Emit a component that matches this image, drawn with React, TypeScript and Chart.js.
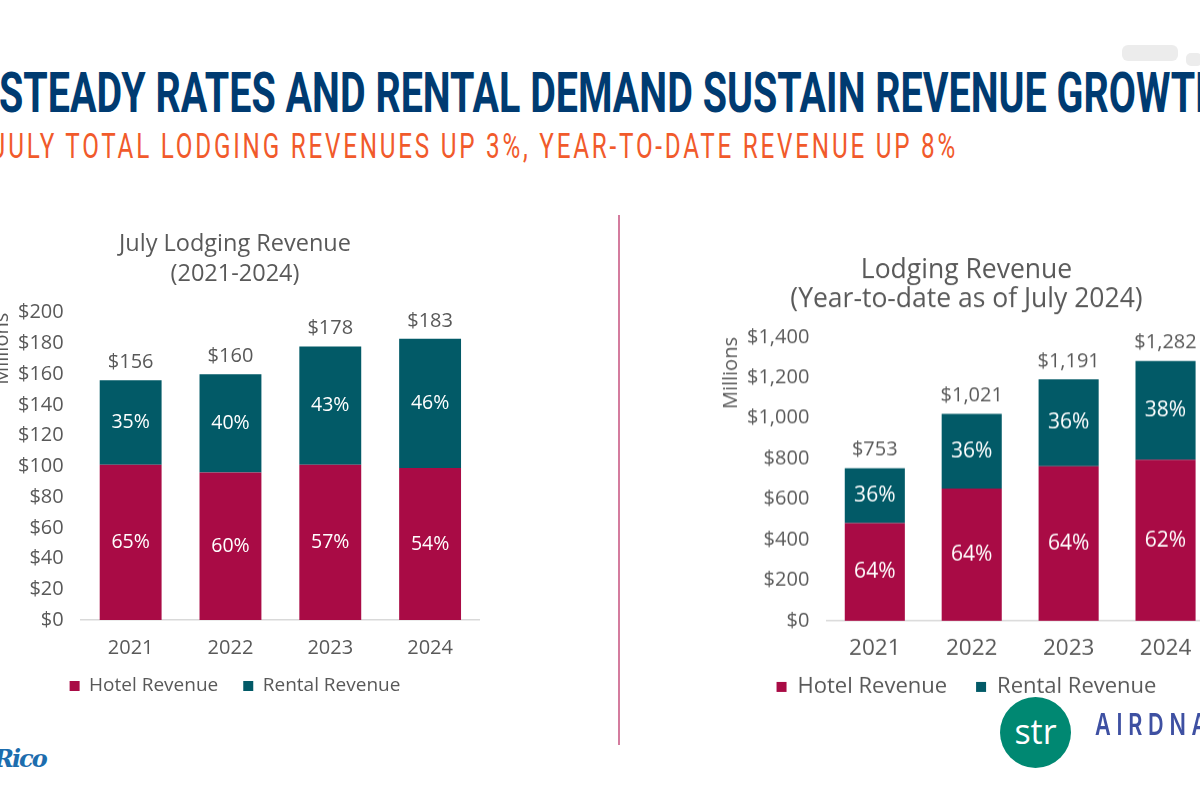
import React, { useEffect, useRef } from "react";
import { Chart, registerables } from "chart.js";

Chart.register(...registerables);

// ---------- data ----------
const years = ["2021", "2022", "2023", "2024"];

const julyTitle = ["July Lodging Revenue", "(2021-2024)"];
const julyHotel = [101, 96, 101, 99];
const julyRental = [55, 64, 77, 84];
const julyTotals = [156, 160, 178, 183];
const julyHotelPct = ["65%", "60%", "57%", "54%"];
const julyRentalPct = ["35%", "40%", "43%", "46%"];
const julyMax = 200;
const julyStep = 20;

const ytdTitle = ["Lodging Revenue", "(Year-to-date as of July 2024)"];
const ytdHotel = [482, 653, 762, 795];
const ytdRental = [271, 368, 429, 487];
const ytdTotals = [753, 1021, 1191, 1282];
const ytdHotelPct = ["64%", "64%", "64%", "62%"];
const ytdRentalPct = ["36%", "36%", "36%", "38%"];
const ytdMax = 1400;
const ytdStep = 200;

const seriesNames = ["Hotel Revenue", "Rental Revenue"];

// ---------- style ----------
const HOTEL = "#A90B45";
const RENTAL = "#025A67";
const GRAY = "#595959";
const FONT = '"Open Sans", "DejaVu Sans", sans-serif';
const Y_PAD = 17;

const money = (v: number) => "$" + Number(v).toLocaleString("en-US");

const barLabelPlugin = {
  id: "barLabels",
  afterLayout(chart: any, _args: any, opts: any) {
    const lg = chart.legend;
    if (lg && opts.legendShift) {
      lg.top -= opts.legendShift;
      lg.bottom -= opts.legendShift;
    }
  },
  afterDatasetsDraw(chart: any, _args: any, opts: any) {
    const ctx = chart.ctx;
    ctx.save();
    ctx.textAlign = "center";
    ctx.textBaseline = "middle";
    chart.data.datasets.forEach((_ds: any, di: number) => {
      const meta = chart.getDatasetMeta(di);
      meta.data.forEach((bar: any, i: number) => {
        const { x, y, base } = bar.getProps(["x", "y", "base"], true);
        ctx.font = `400 ${opts.pctSize}px ${FONT}`;
        ctx.fillStyle = "#ffffff";
        ctx.fillText(opts.pct[di][i], x, (y + base) / 2);
      });
    });
    const last = chart.getDatasetMeta(chart.data.datasets.length - 1);
    last.data.forEach((bar: any, i: number) => {
      const { x, y } = bar.getProps(["x", "y"], true);
      ctx.font = `400 ${opts.totalSize}px ${FONT}`;
      ctx.fillStyle = GRAY;
      ctx.fillText(money(opts.totals[i]), x, y - 18);
    });
    ctx.restore();
  },
};

type Look = {
  titleSize: number;
  titleLH: number;
  titlePadBottom: number;
  xSize: number;
  xPad: number;
  legendSize: number;
  legendPad: number;
  legendShift: number;
  pctSize: number;
  totalSize: number;
};

function makeConfig(
  title: string[],
  hotel: number[],
  rental: number[],
  totals: number[],
  hotelPct: string[],
  rentalPct: string[],
  max: number,
  step: number,
  look: Look
): any {
  return {
    type: "bar",
    data: {
      labels: years,
      datasets: [
        {
          label: seriesNames[0],
          data: hotel,
          backgroundColor: HOTEL,
          borderWidth: 0,
          barPercentage: 0.62,
          categoryPercentage: 1,
        },
        {
          label: seriesNames[1],
          data: rental,
          backgroundColor: RENTAL,
          borderWidth: 0,
          barPercentage: 0.62,
          categoryPercentage: 1,
        },
      ],
    },
    plugins: [barLabelPlugin],
    options: {
      responsive: true,
      maintainAspectRatio: false,
      animation: false,
      layout: { padding: 0 },
      plugins: {
        tooltip: { enabled: false },
        title: {
          display: true,
          text: title,
          color: GRAY,
          font: { family: FONT, size: look.titleSize, weight: "400", lineHeight: look.titleLH },
          padding: { top: 8, bottom: look.titlePadBottom },
        },
        legend: {
          display: true,
          position: "bottom",
          labels: {
            color: GRAY,
            boxWidth: 10,
            boxHeight: 10,
            padding: look.legendPad,
            font: { family: FONT, size: look.legendSize },
          },
        },
        barLabels: {
          pctSize: look.pctSize,
          totalSize: look.totalSize,
          legendShift: look.legendShift,
          pct: [hotelPct, rentalPct],
          totals,
        },
      },
      scales: {
        x: {
          stacked: true,
          grid: { display: false, drawTicks: false },
          border: { display: true, color: "#d9d9d9", width: 1.5 },
          ticks: {
            color: GRAY,
            padding: look.xPad,
            font: { family: FONT, size: look.xSize },
          },
          afterFit: (scale: any) => {
            scale.height -= look.xPad;
          },
        },
        y: {
          stacked: true,
          min: 0,
          max,
          grid: { display: false, drawTicks: false },
          border: { display: false },
          ticks: {
            stepSize: step,
            color: GRAY,
            padding: Y_PAD,
            font: { family: FONT, size: 20 },
            callback: (v: any) => money(v),
          },
          title: {
            display: true,
            text: "Millions",
            align: "end",
            color: GRAY,
            font: { family: FONT, size: 20 },
            padding: { top: 0, bottom: 4 },
          },
          afterFit: (scale: any) => {
            scale.width -= Y_PAD;
          },
        },
      },
    },
  };
}

function ChartBox(props: { config: any; left: number; top: number; width: number; height: number }) {
  const ref = useRef<HTMLCanvasElement | null>(null);
  useEffect(() => {
    if (!ref.current) return;
    const chart = new Chart(ref.current, props.config);
    return () => chart.destroy();
  }, []);
  return (
    <div
      style={{
        position: "absolute",
        left: props.left,
        top: props.top,
        width: props.width,
        height: props.height,
      }}
    >
      <canvas ref={ref} />
    </div>
  );
}

const julyLook: Look = {
  titleSize: 23.5,
  titleLH: 1.25,
  titlePadBottom: 24,
  xSize: 20,
  xPad: 16,
  legendSize: 19,
  legendPad: 25,
  legendShift: 8.5,
  pctSize: 19.5,
  totalSize: 20,
};

const ytdLook: Look = {
  titleSize: 26.5,
  titleLH: 1.1,
  titlePadBottom: 22.5,
  xSize: 22.5,
  xPad: 14.5,
  legendSize: 22,
  legendPad: 29,
  legendShift: 15.5,
  pctSize: 21,
  totalSize: 20,
};

export default function App() {
  const julyConfig = makeConfig(julyTitle, julyHotel, julyRental, julyTotals, julyHotelPct, julyRentalPct, julyMax, julyStep, julyLook);
  const ytdConfig = makeConfig(ytdTitle, ytdHotel, ytdRental, ytdTotals, ytdHotelPct, ytdRentalPct, ytdMax, ytdStep, ytdLook);
  return (
    <div
      style={{
        position: "fixed",
        left: 0,
        top: 0,
        width: 1200,
        height: 800,
        overflow: "hidden",
        background: "#ffffff",
      }}
    >
      <div
        style={{
          position: "absolute",
          left: 1122,
          top: 45,
          width: 56,
          height: 16,
          borderRadius: 6,
          background: "#ececec",
        }}
      />
      <div
        style={{
          position: "absolute",
          left: 1186,
          top: 53,
          width: 16,
          height: 13,
          borderRadius: 5,
          background: "#ececec",
        }}
      />
      <svg
        width={1200}
        height={180}
        style={{ position: "absolute", left: 0, top: 0 }}
      >
        <text
          x={-1}
          y={112}
          textLength={1224}
          lengthAdjust="spacingAndGlyphs"
          fill="#003B71"
          style={{ fontFamily: "Roboto, 'Liberation Sans', sans-serif", fontWeight: 700, fontSize: 56 }}
        >
          STEADY RATES AND RENTAL DEMAND SUSTAIN REVENUE GROWTH
        </text>
        <text
          x={-8}
          y={158}
          textLength={966}
          lengthAdjust="spacingAndGlyphs"
          fill="#F15A2B"
          style={{ fontFamily: "Roboto, 'Liberation Sans', sans-serif", fontWeight: 400, fontSize: 35, letterSpacing: 4 }}
        >
          JULY TOTAL LODGING REVENUES UP 3%, YEAR-TO-DATE REVENUE UP 8%
        </text>
      </svg>

      <ChartBox config={julyConfig} left={-10} top={222} width={490} height={492} />
      <ChartBox config={ytdConfig} left={719} top={248} width={495} height={474.5} />

      <div
        style={{
          position: "absolute",
          left: 618,
          top: 215,
          width: 2,
          height: 530,
          background: "#D47C9E",
        }}
      />

      <div
        style={{
          position: "absolute",
          left: -6,
          top: 744,
          fontFamily: "'DejaVu Serif', serif",
          fontStyle: "italic",
          fontWeight: 700,
          fontSize: 24,
          color: "#1C6DAE",
          letterSpacing: -2,
        }}
      >
        Rico
      </div>

      <div
        style={{
          position: "absolute",
          left: 1000,
          top: 697,
          width: 71,
          height: 71,
          borderRadius: "50%",
          background: "#008872",
          color: "#ffffff",
          fontFamily: FONT,
          fontSize: 34,
          fontWeight: 500,
          display: "flex",
          alignItems: "center",
          justifyContent: "center",
          lineHeight: 1,
        }}
      >
        <span style={{ marginTop: -4 }}>str</span>
      </div>
      <div
        style={{
          position: "absolute",
          left: 1095,
          top: 706,
          fontFamily: "Inter, 'DejaVu Sans', sans-serif",
          fontSize: 30,
          fontWeight: 600,
          letterSpacing: 8,
          color: "#3E50A2",
          transform: "scaleX(0.72)",
          transformOrigin: "left top",
          whiteSpace: "nowrap",
        }}
      >
        AIRDNA
      </div>
    </div>
  );
}
